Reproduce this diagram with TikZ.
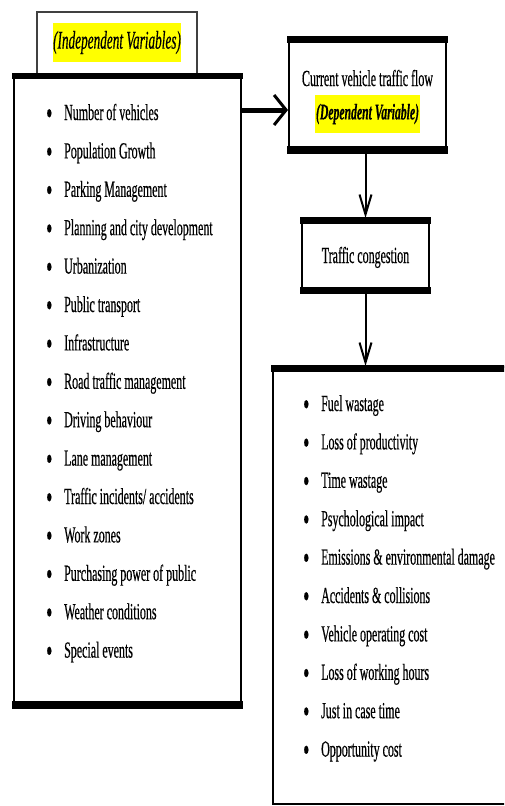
\documentclass[tikz,border=0pt]{standalone}
\usepackage{fontspec}
\setmainfont{Liberation Serif}[FakeStretch=0.52,FakeBold=0.4]
\usetikzlibrary{arrows.meta}
\definecolor{hl}{RGB}{255,255,0}
\begin{document}
\begin{tikzpicture}[x=1pt,y=-1pt,
  panel/.style={draw=black, line width=2pt, fill=white, inner sep=0pt},
  titlebox/.style={draw=black!75, line width=1.2pt, fill=white, inner sep=0pt},
  band/.style={fill=black},
  txt/.style={inner sep=0pt, font=\fontsize{23}{27}\selectfont},
  item/.style={txt, anchor=base west},
  bigarrow/.style={line width=5pt, -{Straight Barb[length=12pt,width=30pt,line width=3pt 0]}},
  smallarrow/.style={line width=2pt, -{Straight Barb[length=20pt,width=12pt,line width=2pt 0]}}]
\useasboundingbox (0,0) rectangle (504,806);
\clip (0,0) rectangle (504,806);
\newcommand{\bul}{\makebox[18pt][l]{\raisebox{-4.5pt}{\fontsize{34}{34}\selectfont\textbullet}}}
% title box
\node[titlebox, minimum width=160pt, minimum height=62pt] (T) at (117,43) {};
\node[fill=hl, inner xsep=0.5pt, inner ysep=0pt, minimum height=39pt, font=\fontsize{25.5}{30}\selectfont\itshape] (TT) at (117,42.5) {(Independent Variables)};
% left box
\node[panel, minimum width=227pt, minimum height=632pt] (L) at (127.5,391) {};
\fill[band] ([xshift=-1pt,yshift=1pt]L.north west) rectangle ([xshift=1pt,yshift=-5pt]L.north east);
\fill[band] ([xshift=-1pt,yshift=7pt]L.south west) rectangle ([xshift=1pt,yshift=-1pt]L.south east);
\foreach \t [count=\i] in {Number of vehicles, Population Growth, Parking Management, Planning and city development, Urbanization, Public transport, Infrastructure, Road traffic management, Driving behaviour, Lane management, Traffic incidents/ accidents, Work zones, Purchasing power of public, Weather conditions, Special events}
  \node[item] (l\i) at (46,{120+38.4*(\i-1)}) {\bul\t};
% dependent box
\node[panel, minimum width=157pt, minimum height=114pt] (D) at (367.5,95) {};
\fill[band] ([xshift=-1pt,yshift=1pt]D.north west) rectangle ([xshift=1pt,yshift=-6pt]D.north east);
\fill[band] ([xshift=-1pt,yshift=7pt]D.south west) rectangle ([xshift=1pt,yshift=-1pt]D.south east);
\node[txt, anchor=base] (D1) at (367.5,86) {Current vehicle traffic flow};
\node[fill=hl, inner xsep=1pt, inner ysep=0pt, minimum height=38pt, font=\fontsize{22.5}{27}\selectfont\bfseries\itshape] (D2) at (367.5,114) {(Dependent Variable)};
% congestion box
\node[panel, minimum width=127pt, minimum height=73pt] (C) at (365.5,255.5) {};
\fill[band] ([xshift=-1pt,yshift=1pt]C.north west) rectangle ([xshift=1pt,yshift=-6pt]C.north east);
\fill[band] ([xshift=-1pt,yshift=6pt]C.south west) rectangle ([xshift=1pt,yshift=-1pt]C.south east);
\node[txt, anchor=base] (C1) at (365.5,263) {Traffic congestion};
% effects box
\node[panel, minimum width=237pt, minimum height=437pt] (R) at (391.5,585.5) {};
\fill[band] ([xshift=-1pt,yshift=1pt]R.north west) rectangle ([xshift=1pt,yshift=-6pt]R.north east);
\foreach \t [count=\i] in {Fuel wastage, Loss of productivity, Time wastage, Psychological impact, Emissions \& environmental damage, Accidents \& collisions, Vehicle operating cost, Loss of working hours, Just in case time, Opportunity cost}
  \node[item] (r\i) at (303,{411+38.4*(\i-1)}) {\bul\t};
% connectors
\coordinate (A) at ([yshift=-15pt]D.west);
\draw[bigarrow] (L.east |- A) -- (A);
\draw[smallarrow] (C.north |- D.south) -- (C.north);
\draw[smallarrow] (C.south) -- (C.south |- R.north);
\end{tikzpicture}
\end{document}
